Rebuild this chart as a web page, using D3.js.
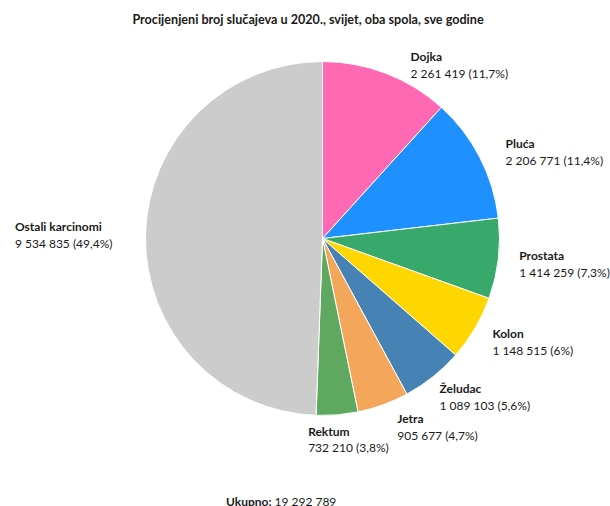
<!DOCTYPE html>
<html>
<head>
<meta charset="utf-8">
<script src="https://cdn.jsdelivr.net/npm/d3@7"></script>
<style>
	body { margin: 0; background: #fff; }
	text { font-family: Lato, "Open Sans", sans-serif; fill: #1a1a1a; }
	.name { font-weight: bold; }
</style>
</head>
<body>
<div class="pie"></div>
<script>
var title = "Procijenjeni broj slučajeva u 2020., svijet, oba spola, sve godine",
sites = ["Dojka", "Pluća", "Prostata", "Kolon", "Želudac", "Jetra", "Rektum", "Ostali karcinomi"],
cases = [2261419, 2206771, 1414259, 1148515, 1089103, 905677, 732210, 9534835],
shares = ["11,7%", "11,4%", "7,3%", "6%", "5,6%", "4,7%", "3,8%", "49,4%"],
total = 19292789;

var colors = ["#ff69b4", "#1e90ff", "#38a96b", "#ffd700", "#4682b4", "#f4a65a", "#5fa85f", "#cccccc"];

// hand tweaks so the labels sit where the original put them
var labelNudge = [[20, -1], [15, -4], [9, 0], [7, 4], [-1, 7], [10, 7], [-30, 9], [-21, -4]];

function fmt(n) {
	return d3.format(",")(n).replace(/,/g, " ");
}

function buildPie() {
	var width = 610,
	height = 506,
	cx = 322.5,
	cy = 238.5,
	radius = 177,
	labelRadius = radius + 12;

	var chart = d3.select("div.pie")
		.append("svg")
		.attr("width", width)
		.attr("height", height);

	chart.append("text")
		.attr("x", 308)
		.attr("y", 24)
		.attr("text-anchor", "middle")
		.attr("class", "name")
		.style("font-size", "12.6px")
		.text(title);

	var data = sites.map(function(s, i) {
		return { site: s, cases: cases[i], share: shares[i], color: colors[i], nudge: labelNudge[i] };
	});

	var pie = d3.pie()
		.sort(null)
		.value(function(d) { return d.cases; });

	var arc = d3.arc()
		.innerRadius(0)
		.outerRadius(radius);

	var arcs = pie(data);

	var pieLayer = chart.append("g")
		.attr("transform", "translate(" + cx + "," + cy + ")");

	pieLayer.selectAll(".slice")
		.data(arcs)
		.enter().append("path")
		.attr("class", "slice")
		.attr("d", arc)
		.attr("fill", function(d) { return d.data.color; })
		.attr("stroke", "#fff")
		.attr("stroke-width", 1);

	var labels = pieLayer.selectAll(".lbl")
		.data(arcs)
		.enter().append("g")
		.attr("class", "lbl");

	labels.append("text")
		.attr("class", "name")
		.style("font-size", "12px")
		.text(function(d) { return d.data.site; });

	labels.append("text")
		.attr("y", 16.5)
		.style("font-size", "12px")
		.text(function(d) { return fmt(d.data.cases) + " (" + d.data.share + ")"; });

	labels.attr("transform", function(d) {
		var a = (d.startAngle + d.endAngle) / 2,
		x = Math.sin(a) * labelRadius,
		y = -Math.cos(a) * labelRadius;
		if (x < 0) {
			x -= this.getBBox().width;
		}
		return "translate(" + (x + d.data.nudge[0]) + "," + (y + d.data.nudge[1]) + ")";
	});

	var foot = chart.append("text")
		.attr("x", 226)
		.attr("y", 506)
		.style("font-size", "12px");
	foot.append("tspan").attr("class", "name").text("Ukupno: ");
	foot.append("tspan").text(fmt(total));
}

buildPie();
</script>
</body>
</html>
